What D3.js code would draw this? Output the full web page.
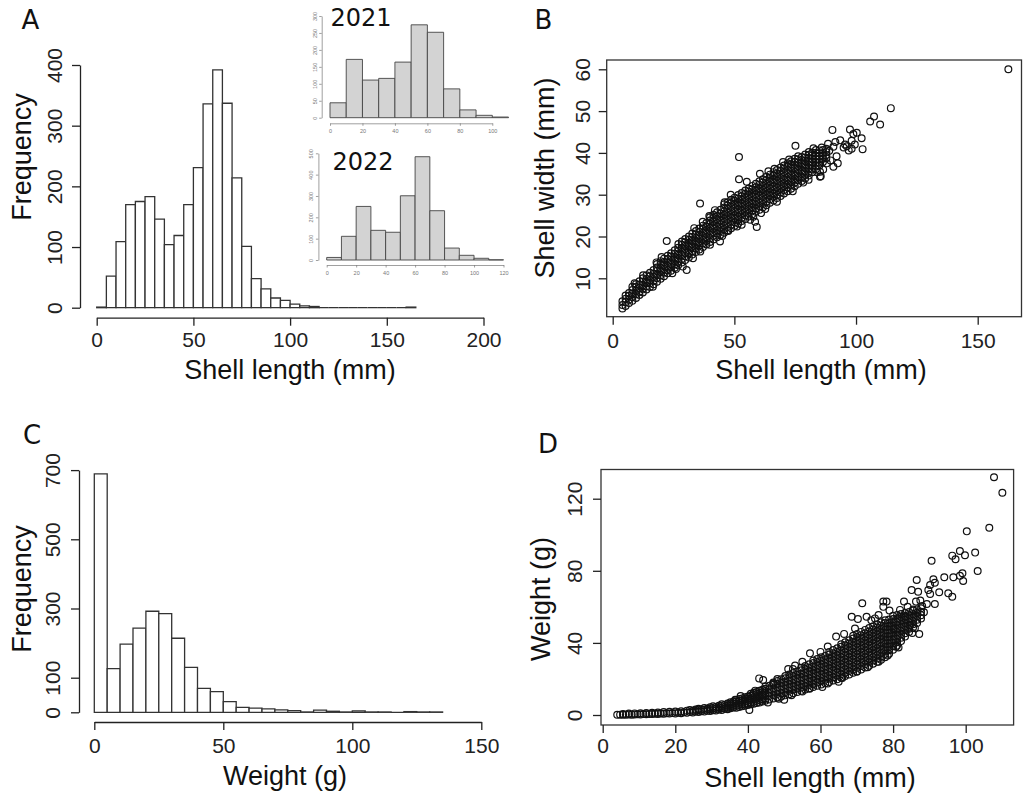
<!DOCTYPE html>
<html>
<head>
<meta charset="utf-8">
<script src="https://cdn.jsdelivr.net/npm/d3@7"></script>
<style>
  body { margin: 0; background: #fff; }
  svg { display: block; }
</style>
</head>
<body>
<svg id="fig" width="1026" height="795"></svg>
<script>
// ---- Panel A: shell length histogram (5 mm bins starting at 0)
const lengthBinWidth = 5;
const lengthCounts = [1, 52, 109, 170, 175, 183, 146, 104, 119, 170, 231, 336, 392, 337, 214, 101, 48, 31, 16, 12, 6, 3, 2, 0, 0, 0, 0, 0, 0, 0, 0, 0, 1];
const lengthTicks = [0, 50, 100, 150, 200];
const freqTicksA = [0, 100, 200, 300, 400];

// insets (10 mm bins)
const insetBinWidth = 10;
const counts2021 = [44, 172, 111, 116, 164, 274, 252, 85, 23, 7, 2];
const counts2022 = [12, 111, 251, 139, 130, 301, 484, 231, 56, 22, 8, 1];
const inset2021XTicks = [0, 20, 40, 60, 80, 100];
const inset2021YTicks = [0, 50, 100, 150, 200, 250, 300];
const inset2022XTicks = [0, 20, 40, 60, 80, 100, 120];
const inset2022YTicks = [0, 100, 200, 300, 400, 500];

// ---- Panel C: weight histogram (5 g bins starting at 0)
const weightBinWidth = 5;
const weightCounts = [689, 126, 197, 243, 292, 285, 214, 130, 69, 60, 31, 14, 12, 10, 7, 5, 1, 6, 3, 1, 4, 1, 1, 0, 2, 1, 1];
const weightTicks = [0, 50, 100, 150];
const freqTicksC = [0, 100, 300, 500, 700];

// ---- Panel B: shell width vs shell length
// dense core, read column by column: [length, [widths...]]
const widthCore = [
  [4.0, [2.8, 3.6, 4.5]],
  [5.3, [3.4, 4.3, 5.1, 5.9]],
  [6.7, [4.1, 4.9, 5.8, 6.5]],
  [8.1, [4.6, 5.5, 6.3, 7.2, 8.0]],
  [9.6, [5.3, 6.2, 7.0, 7.9, 8.6]],
  [11.0, [6.0, 6.8, 7.7, 8.5, 9.3]],
  [12.4, [6.6, 7.5, 8.3, 9.2, 10.0]],
  [13.9, [7.3, 8.1, 9.0, 9.8, 10.7]],
  [15.3, [7.9, 8.8, 9.6, 10.5, 11.3]],
  [16.8, [8.6, 9.4, 10.3, 11.1, 12.0]],
  [18.2, [9.2, 10.1, 10.9, 11.8, 12.6, 13.4]],
  [19.7, [9.9, 10.7, 11.6, 12.4, 13.3, 14.1]],
  [21.1, [10.5, 11.4, 12.2, 13.1, 13.9, 14.7]],
  [22.6, [11.2, 12.0, 12.9, 13.7, 14.6, 15.4]],
  [24.0, [11.8, 12.7, 13.5, 14.4, 15.2, 16.0]],
  [25.5, [12.5, 13.3, 14.2, 15.0, 15.9, 16.7]],
  [26.9, [13.1, 14.0, 14.8, 15.7, 16.5, 17.3]],
  [28.4, [13.8, 14.6, 15.5, 16.3, 17.2, 18.0, 18.8]],
  [29.8, [14.4, 15.3, 16.1, 17.0, 17.8, 18.6, 19.4]],
  [31.3, [15.0, 15.9, 16.7, 17.6, 18.4, 19.2, 20.0]],
  [32.7, [15.7, 16.5, 17.4, 18.2, 19.0, 19.9, 20.7]],
  [34.2, [16.3, 17.1, 18.0, 18.8, 19.7, 20.5, 21.3]],
  [35.6, [16.9, 17.8, 18.6, 19.5, 20.3, 21.1, 21.9]],
  [37.1, [17.5, 18.4, 19.2, 20.1, 20.9, 21.8, 22.6]],
  [38.5, [18.1, 19.0, 19.8, 20.7, 21.5, 22.4, 23.2]],
  [40.0, [18.7, 19.6, 20.4, 21.3, 22.1, 23.0, 23.8, 24.6]],
  [41.4, [19.3, 20.2, 21.0, 21.9, 22.7, 23.6, 24.4, 25.2]],
  [42.9, [19.8, 20.7, 21.5, 22.4, 23.2, 24.1, 24.9, 25.8]],
  [44.3, [20.4, 21.3, 22.1, 23.0, 23.8, 24.7, 25.5, 26.4]],
  [45.8, [20.9, 21.8, 22.6, 23.5, 24.3, 25.2, 26.0, 26.9, 27.7]],
  [47.2, [21.5, 22.3, 23.2, 24.0, 24.9, 25.7, 26.6, 27.4, 28.2]],
  [48.7, [22.0, 22.9, 23.7, 24.6, 25.4, 26.3, 27.1, 28.0, 28.8]],
  [50.1, [22.6, 23.4, 24.3, 25.1, 26.0, 26.8, 27.7, 28.5, 29.3]],
  [51.6, [23.1, 24.0, 24.8, 25.7, 26.5, 27.4, 28.2, 29.1, 29.9]],
  [53.0, [23.7, 24.5, 25.4, 26.2, 27.1, 27.9, 28.8, 29.6, 30.4]],
  [54.5, [24.2, 25.1, 25.9, 26.8, 27.6, 28.5, 29.3, 30.2, 31.0]],
  [55.9, [24.8, 25.6, 26.5, 27.3, 28.2, 29.0, 29.9, 30.7, 31.5]],
  [57.4, [25.3, 26.2, 27.0, 27.9, 28.7, 29.6, 30.4, 31.3, 32.1]],
  [58.8, [25.9, 26.7, 27.6, 28.4, 29.3, 30.1, 31.0, 31.8, 32.6]],
  [60.3, [26.4, 27.3, 28.1, 29.0, 29.8, 30.7, 31.5, 32.4, 33.2]],
  [61.7, [27.0, 27.8, 28.7, 29.5, 30.4, 31.2, 32.1, 32.9, 33.7]],
  [63.2, [27.5, 28.4, 29.2, 30.1, 30.9, 31.8, 32.6, 33.5, 34.3]],
  [64.6, [28.1, 28.9, 29.8, 30.6, 31.5, 32.3, 33.2, 34.0, 34.8]],
  [66.1, [28.6, 29.5, 30.3, 31.2, 32.0, 32.9, 33.7, 34.6, 35.4]],
  [67.5, [29.2, 30.0, 30.9, 31.7, 32.6, 33.4, 34.3, 35.1, 35.9]],
  [69.0, [29.7, 30.6, 31.4, 32.3, 33.1, 34.0, 34.8, 35.7, 36.5]],
  [70.4, [30.3, 31.1, 32.0, 32.8, 33.7, 34.5, 35.4, 36.2, 37.0]],
  [71.9, [30.8, 31.7, 32.5, 33.4, 34.2, 35.1, 35.9, 36.8, 37.5]],
  [73.3, [31.4, 32.3, 33.1, 34.0, 34.8, 35.7, 36.5, 37.3, 38.0]],
  [74.8, [32.0, 32.9, 33.7, 34.6, 35.4, 36.3, 37.1, 37.9, 38.6]],
  [76.2, [32.6, 33.5, 34.3, 35.2, 36.0, 36.9, 37.7, 38.5, 39.2]],
  [77.7, [33.3, 34.1, 35.0, 35.8, 36.7, 37.5, 38.3, 39.0]],
  [79.1, [33.9, 34.8, 35.6, 36.5, 37.3, 38.1, 38.9, 39.6]],
  [80.6, [34.6, 35.5, 36.3, 37.1, 37.9, 38.7, 39.5, 40.2]],
  [82.0, [35.4, 36.2, 37.0, 37.8, 38.6, 39.4, 40.1]],
  [83.5, [36.1, 36.9, 37.7, 38.5, 39.3, 40.0, 40.7]],
  [84.9, [36.9, 37.7, 38.5, 39.2, 39.9, 40.6]],
  [86.4, [37.8, 38.6, 39.3, 40.0, 40.7]],
  [87.8, [38.7, 39.5, 40.2, 41.0]]
];
// scattered points around the core: [length, width]
const widthOutliers = [
  [22.2, 18.9], [20.1, 15.1], [28.8, 12.8], [30.4, 12.0], [35.9, 27.9], [51.9, 39.0], [51.9, 33.7],
  [55.1, 33.1], [39.7, 24.9], [44.1, 18.8], [47.5, 21.3], [51.1, 22.4], [59.2, 22.3], [58.5, 23.5],
  [57.8, 24.7], [62.7, 26.6], [75.1, 41.7], [78.3, 32.9], [82.5, 41.1], [85.9, 41.3], [85.5, 34.4],
  [90.3, 45.5], [90.7, 36.7], [97.5, 45.6], [98.9, 44.5], [100.3, 44.8], [98.2, 42.9], [96.2, 41.6],
  [102.3, 43.5], [102.7, 40.9], [105.8, 47.5], [107.4, 48.7], [109.9, 46.8], [114.3, 50.7], [162.6, 60.0],
  [90.7, 41.5], [92.0, 39.2], [98.2, 41.0], [94.9, 41.3], [85.2, 35.5], [85.2, 34.3], [88.5, 42.2],
  [89.0, 40.5], [91.5, 42.6], [93.5, 43.0], [95.5, 42.0], [97.0, 40.6], [99.5, 42.0], [88.0, 37.5],
  [86.5, 36.0], [92.5, 37.5], [89.5, 38.2], [66.5, 36.2], [70.0, 37.8], [72.5, 38.4], [60.5, 35.0],
  [64.0, 35.6], [46.0, 28.2], [48.5, 30.0], [42.0, 26.3], [37.0, 23.5], [33.5, 22.0], [27.0, 18.2],
  [18.0, 13.8], [12.5, 10.7], [9.0, 8.8], [24.5, 11.2], [16.5, 8.0], [40.0, 18.0], [53.0, 22.8],
  [61.0, 25.6], [67.5, 28.3], [74.0, 30.8], [80.5, 33.6], [84.0, 35.4], [56.5, 24.0], [26.0, 12.2],
  [36.0, 16.4], [33.0, 14.8], [45.0, 20.1]
];
const bXTicks = [0, 50, 100, 150];
const bYTicks = [10, 20, 30, 40, 50, 60];

// ---- Panel D: weight vs shell length
// dense core, column by column: [length, [weights...]]
const weightCore = [
  [4.0, [0.1]], [4.8, [0.2]], [5.6, [0.1, 0.6]], [6.4, [0.2]], [7.2, [0.3, 0.8]], [8.0, [0.2]],
  [8.8, [0.3, 0.9]], [9.6, [0.4]], [10.4, [0.3, 1.0]], [11.2, [0.5]], [12.0, [0.4, 1.1]], [12.8, [0.6]],
  [13.6, [0.5, 1.2]], [14.4, [0.7]], [15.2, [0.6, 1.4]], [16.0, [0.8]], [16.8, [0.7, 1.6]], [17.6, [1.0]],
  [18.4, [0.8, 1.8]], [19.2, [1.1]], [20.0, [0.9, 1.9]], [20.8, [1.3]], [21.6, [1.0, 2.1]], [22.4, [1.5]],
  [23.2, [1.2, 2.4]], [24.0, [1.7, 2.8]], [24.8, [1.4, 2.3]], [25.6, [1.9, 3.0]], [26.4, [1.6, 2.6, 3.5]],
  [27.2, [2.1, 3.1]], [28.0, [1.9, 2.9, 3.9]], [28.8, [2.4, 3.4]], [29.6, [2.2, 3.2, 4.3]],
  [30.4, [2.7, 3.8, 4.8]], [31.2, [2.5, 3.5, 4.5]], [32.0, [3.0, 4.1, 5.2]], [32.8, [2.8, 3.8, 4.9, 5.9]],
  [33.6, [3.4, 4.5, 5.6]], [34.4, [3.2, 4.2, 5.3, 6.4]], [35.2, [3.8, 4.9, 6.0, 7.1]],
  [36.0, [4.1, 5.2, 6.3, 7.4]], [36.8, [4.0, 5.1, 6.2, 7.3, 8.3]], [37.6, [4.5, 5.6, 6.7, 7.8, 8.9]],
  [38.4, [4.8, 5.9, 7.0, 8.1, 9.2]], [39.2, [5.1, 6.3, 7.5, 8.7, 9.8]], [40.0, [5.5, 6.7, 7.9, 9.1, 10.3]],
  [40.8, [5.9, 7.1, 8.3, 9.5, 10.7, 11.8]], [41.6, [6.2, 7.4, 8.7, 9.9, 11.1, 12.3]],
  [42.4, [6.6, 7.9, 9.2, 10.4, 11.6, 12.8]], [43.2, [7.0, 8.3, 9.6, 10.9, 12.2, 13.4]],
  [44.0, [7.5, 8.8, 10.1, 11.4, 12.7, 14.0]], [44.8, [7.9, 9.2, 10.6, 12.0, 13.3, 14.6, 15.8]],
  [45.9, [8.6, 10.5, 12.4, 14.3, 16.2]],
  [47.0, [9.2, 11.1, 13.0, 14.9, 16.8, 18.0]],
  [48.1, [9.7, 11.6, 13.5, 15.4, 17.3, 18.9]],
  [49.2, [10.3, 12.2, 14.1, 16.0, 17.9, 19.8]],
  [50.3, [10.9, 12.8, 14.7, 16.6, 18.5, 20.4, 21.6]],
  [51.4, [11.5, 13.4, 15.3, 17.2, 19.1, 21.0, 22.5]],
  [52.5, [12.1, 14.0, 15.9, 17.8, 19.7, 21.6, 23.3]],
  [53.6, [12.8, 14.7, 16.6, 18.5, 20.4, 22.3, 24.2]],
  [54.7, [13.4, 15.3, 17.2, 19.1, 21.0, 22.9, 24.8, 26.2]],
  [55.8, [14.1, 16.0, 17.9, 19.8, 21.7, 23.6, 25.5, 27.2]],
  [56.9, [14.8, 16.7, 18.6, 20.5, 22.4, 24.3, 26.2, 28.1]],
  [58.0, [15.5, 17.4, 19.3, 21.2, 23.1, 25.0, 26.9, 28.8, 30.2]],
  [59.1, [16.2, 18.1, 20.0, 21.9, 23.8, 25.7, 27.6, 29.5, 31.1]],
  [60.2, [16.9, 18.8, 20.7, 22.6, 24.5, 26.4, 28.3, 30.2, 32.0]],
  [61.3, [17.6, 19.5, 21.4, 23.3, 25.2, 27.1, 29.0, 30.9, 32.8]],
  [62.4, [18.3, 20.2, 22.1, 24.0, 25.9, 27.8, 29.7, 31.6, 33.5, 35.0]],
  [63.5, [19.1, 21.0, 22.9, 24.8, 26.7, 28.6, 30.5, 32.4, 34.3, 36.0]],
  [64.6, [19.9, 21.8, 23.7, 25.6, 27.5, 29.4, 31.3, 33.2, 35.1, 37.0]],
  [65.7, [20.7, 22.6, 24.5, 26.4, 28.3, 30.2, 32.1, 34.0, 35.9, 37.8, 39.2]],
  [66.8, [21.6, 23.5, 25.4, 27.3, 29.2, 31.1, 33.0, 34.9, 36.8, 38.7, 40.3]],
  [67.9, [22.5, 24.4, 26.3, 28.2, 30.1, 32.0, 33.9, 35.8, 37.7, 39.6, 41.5]],
  [69.0, [23.4, 25.3, 27.2, 29.1, 31.0, 32.9, 34.8, 36.7, 38.6, 40.5, 42.4, 44.0]],
  [70.1, [24.3, 26.2, 28.1, 30.0, 31.9, 33.8, 35.7, 37.6, 39.5, 41.4, 43.3, 45.0]],
  [71.2, [25.3, 27.2, 29.1, 31.0, 32.9, 34.8, 36.7, 38.6, 40.5, 42.4, 44.3, 46.1]],
  [72.3, [26.3, 28.2, 30.1, 32.0, 33.9, 35.8, 37.7, 39.6, 41.5, 43.4, 45.3, 47.2]],
  [73.4, [27.3, 29.2, 31.1, 33.0, 34.9, 36.8, 38.7, 40.6, 42.5, 44.4, 46.3, 48.2]],
  [74.5, [28.4, 30.3, 32.2, 34.1, 36.0, 37.9, 39.8, 41.7, 43.6, 45.5, 47.4, 49.2]],
  [75.6, [29.5, 31.4, 33.3, 35.2, 37.1, 39.0, 40.9, 42.8, 44.7, 46.6, 48.5, 50.3]],
  [76.7, [30.6, 32.5, 34.4, 36.3, 38.2, 40.1, 42.0, 43.9, 45.8, 47.7, 49.6, 51.4]],
  [77.8, [32.0, 33.9, 35.8, 37.7, 39.6, 41.5, 43.4, 45.3, 47.2, 49.1, 51.0, 52.6]],
  [78.9, [34.0, 35.9, 37.8, 39.7, 41.6, 43.5, 45.4, 47.3, 49.2, 51.1, 53.0]],
  [80.0, [36.2, 38.1, 40.0, 41.9, 43.8, 45.7, 47.6, 49.5, 51.4, 53.3, 55.0]],
  [81.1, [38.5, 40.4, 42.3, 44.2, 46.1, 48.0, 49.9, 51.8, 53.7, 55.5]],
  [82.2, [41.0, 42.9, 44.8, 46.7, 48.6, 50.5, 52.4, 54.3, 56.0]],
  [83.3, [43.5, 45.4, 47.3, 49.2, 51.1, 53.0, 54.9, 56.6]],
  [84.4, [46.0, 47.9, 49.8, 51.7, 53.6, 55.5, 57.2]],
  [85.5, [48.5, 50.4, 52.3, 54.2, 56.1, 58.0]],
  [86.6, [51.0, 52.9, 54.8, 56.7, 58.6]],
  [87.7, [53.5, 55.4, 57.3, 59.2]]
];
const weightOutliers = [
  [107.8, 131.9], [110.1, 123.3], [106.5, 103.9], [100.3, 101.9], [102.6, 90.1], [103.3, 79.9],
  [98.4, 91.0], [96.3, 88.4], [97.2, 86.4], [99.8, 88.6], [99.1, 78.6], [98.4, 77.2], [99.3, 74.3],
  [96.6, 76.4], [95.2, 67.5], [96.3, 65.6], [94.1, 76.4], [90.6, 85.6], [91.1, 75.3], [91.5, 73.4],
  [90.2, 72.1], [89.7, 69.3], [92.7, 68.1], [90.2, 67.1], [89.3, 61.6], [91.5, 61.6], [86.5, 74.9],
  [86.9, 68.4], [85.1, 69.3], [86.3, 62.9], [86.0, 48.1], [87.2, 44.9], [85.3, 45.5], [71.5, 62.0],
  [78.2, 62.9], [77.3, 62.9], [64.3, 43.5], [57.1, 34.2], [51.1, 25.5], [52.4, 25.5], [43.1, 20.3],
  [44.2, 19.4], [48.1, 20.0], [40.4, 2.8], [80.8, 37.9], [68.6, 54.5], [70.3, 53.3], [72.7, 54.5],
  [75.0, 53.6], [77.3, 60.0], [84.7, 49.9], [81.9, 58.3], [83.3, 54.5], [80.1, 48.1], [88.0, 60.5],
  [87.5, 63.5], [88.5, 57.0], [84.0, 60.0], [83.0, 63.0], [85.5, 58.5], [79.0, 58.0], [76.0, 55.5],
  [74.0, 52.5], [66.5, 45.0], [69.5, 48.0], [62.0, 38.0], [60.0, 35.0], [55.0, 29.5], [53.0, 27.5],
  [58.0, 17.0], [62.0, 17.5], [65.0, 18.5], [66.0, 20.5], [70.0, 24.0], [73.0, 26.5], [76.0, 29.5],
  [78.5, 33.0], [81.5, 37.5], [57.0, 14.5], [55.0, 13.0], [52.0, 11.0], [48.5, 9.0], [60.5, 15.5],
  [45.5, 7.0], [38.0, 10.5], [36.5, 8.5], [42.0, 13.5], [47.0, 17.5], [50.0, 8.5]
];
const dXTicks = [0, 20, 40, 60, 80, 100];
const dYTicks = [0, 40, 80, 120];

// ---------------------------------------------------------------
const FONT = "'Liberation Sans', Arial, Helvetica, sans-serif";
const LETTER_FONT = "'DejaVu Sans', Verdana, sans-serif";
const INK = '#222';

const svg = d3.select('#fig');

// Bottom axis with labels placed at a given baseline
function bottomAxis(x, ticks, yPos, labelBase, o = {}) {
  const g = svg.append('g')
    .attr('transform', `translate(0,${yPos})`)
    .call(d3.axisBottom(x).tickValues(ticks).tickSize(o.tick || 8).tickSizeOuter(0).tickFormat(d3.format('d')))
    .attr('font-family', FONT)
    .attr('font-size', o.font || 21)
    .attr('color', o.color || INK);
  g.selectAll('path, line').attr('stroke-width', o.sw || 1.3);
  g.selectAll('.tick text').attr('y', labelBase - yPos).attr('dy', null);
  if (o.noDomain) g.select('.domain').remove();
  return g;
}

// Left axis, labels rotated to run along the axis (R style)
function leftAxis(y, ticks, xPos, labelBase, o = {}) {
  const g = svg.append('g')
    .attr('transform', `translate(${xPos},0)`)
    .call(d3.axisLeft(y).tickValues(ticks).tickSize(o.tick || 8).tickSizeOuter(0).tickFormat(d3.format('d')))
    .attr('font-family', FONT)
    .attr('font-size', o.font || 21)
    .attr('color', o.color || INK);
  g.selectAll('path, line').attr('stroke-width', o.sw || 1.3);
  g.selectAll('.tick text')
    .attr('x', 0).attr('dy', null)
    .attr('text-anchor', 'middle')
    .attr('transform', `translate(${labelBase - xPos},0) rotate(-90)`);
  if (o.noDomain) g.select('.domain').remove();
  return g;
}

function label(txt, x, y, size, rotate, font) {
  svg.append('text')
    .attr('transform', `translate(${x},${y})` + (rotate ? ' rotate(-90)' : ''))
    .attr('text-anchor', 'middle')
    .attr('font-family', font || FONT)
    .attr('font-size', size)
    .attr('fill', '#111')
    .text(txt);
}

function histogram(counts, binW, x, y, style) {
  svg.append('g').selectAll('path')
    .data(counts)
    .join('path')
    .attr('d', (c, i) => {
      const x0 = x(i * binW), x1 = x((i + 1) * binW), y0 = y(0), y1 = y(c);
      return `M${x0},${y0}V${y1}H${x1}V${y0}Z`;
    })
    .attr('fill', style.fill)
    .attr('stroke', style.stroke)
    .attr('stroke-width', style.sw);
}

function scatter(core, extra, x, y) {
  const pts = core.flatMap(([l, vs]) => vs.map(v => [l, v])).concat(extra);
  svg.append('g').selectAll('circle')
    .data(pts)
    .join('circle')
    .attr('cx', d => x(d[0]))
    .attr('cy', d => y(d[1]))
    .attr('r', 3.4)
    .attr('fill', 'none')
    .attr('stroke', '#111')
    .attr('stroke-width', 1.2);
}

// ---- Panel A
const xA = d3.scaleLinear().domain([0, 200]).range([96.7, 483.5]);
const yA = d3.scaleLinear().domain([0, 400]).range([307.7, 65]);
histogram(lengthCounts, lengthBinWidth, xA, yA, { fill: '#fff', stroke: '#333', sw: 1.3 });
bottomAxis(xA, lengthTicks, 317.7, 347);
leftAxis(yA, freqTicksA, 80, 61.7);
label('Shell length (mm)', 290, 379, 27);
label('Frequency', 31, 157, 27, true);
label('A', 30.5, 29.3, 26, false, LETTER_FONT);

// insets
const inset = { fill: '#d3d3d3', stroke: '#444', sw: 0.9 };
const insetAxis = { tick: 2.5, font: 5.5, color: '#777', sw: 0.7 };
const x21 = d3.scaleLinear().domain([0, 100]).range([330, 492.3]);
const y21 = d3.scaleLinear().domain([0, 300]).range([117.7, 16]);
histogram(counts2021, insetBinWidth, x21, y21, inset);
bottomAxis(x21, inset2021XTicks, 123.3, 133.5, insetAxis);
leftAxis(y21, inset2021YTicks, 321.7, 316.5, insetAxis);
label('2021', 361, 26, 24, false, LETTER_FONT);

const x22 = d3.scaleLinear().domain([0, 120]).range([326.7, 503.5]);
const y22 = d3.scaleLinear().domain([0, 500]).range([260, 153.3]);
histogram(counts2022, insetBinWidth, x22, y22, inset);
bottomAxis(x22, inset2022XTicks, 265, 274.5, insetAxis);
leftAxis(y22, inset2022YTicks, 318.4, 313.2, insetAxis);
label('2022', 363, 170, 24, false, LETTER_FONT);

// ---- Panel B
const xB = d3.scaleLinear().domain([0, 150]).range([612.7, 977.7]);
const yB = d3.scaleLinear().domain([10, 60]).range([278.3, 69.3]);
scatter(widthCore, widthOutliers, xB, yB);
svg.append('rect')
  .attr('x', 606.7).attr('y', 60).attr('width', 1021.5 - 606.7).attr('height', 316.7 - 60)
  .attr('fill', 'none').attr('stroke', '#333').attr('stroke-width', 1.3);
bottomAxis(xB, bXTicks, 316.7, 348, { noDomain: true });
leftAxis(yB, bYTicks, 606.7, 590, { noDomain: true });
label('Shell length (mm)', 821, 379, 27);
label('Shell width (mm)', 554, 178, 27, true);
label('B', 543.5, 29.3, 26, false, LETTER_FONT);

// ---- Panel C
const xC = d3.scaleLinear().domain([0, 150]).range([94.3, 481.3]);
const yC = d3.scaleLinear().domain([0, 700]).range([712.3, 470.1]);
histogram(weightCounts, weightBinWidth, xC, yC, { fill: '#fff', stroke: '#333', sw: 1.3 });
bottomAxis(xC, weightTicks, 722, 753);
leftAxis(yC, freqTicksC, 79, 60);
label('Weight (g)', 285, 785, 27);
label('Frequency', 31, 589, 27, true);
label('C', 32, 444, 26, false, LETTER_FONT);

// ---- Panel D
const xD = d3.scaleLinear().domain([0, 100]).range([602.7, 965.7]);
const yD = d3.scaleLinear().domain([0, 120]).range([715, 498.7]);
scatter(weightCore, weightOutliers, xD, yD);
svg.append('rect')
  .attr('x', 601).attr('y', 469.5).attr('width', 1013.6 - 601).attr('height', 725 - 469.5)
  .attr('fill', 'none').attr('stroke', '#333').attr('stroke-width', 1.3);
bottomAxis(xD, dXTicks, 725, 753, { noDomain: true });
leftAxis(yD, dYTicks, 601, 582, { noDomain: true });
label('Shell length (mm)', 810, 787, 27);
label('Weight (g)', 549.5, 599, 27, true);
label('D', 548, 453, 26, false, LETTER_FONT);
</script>
</body>
</html>
